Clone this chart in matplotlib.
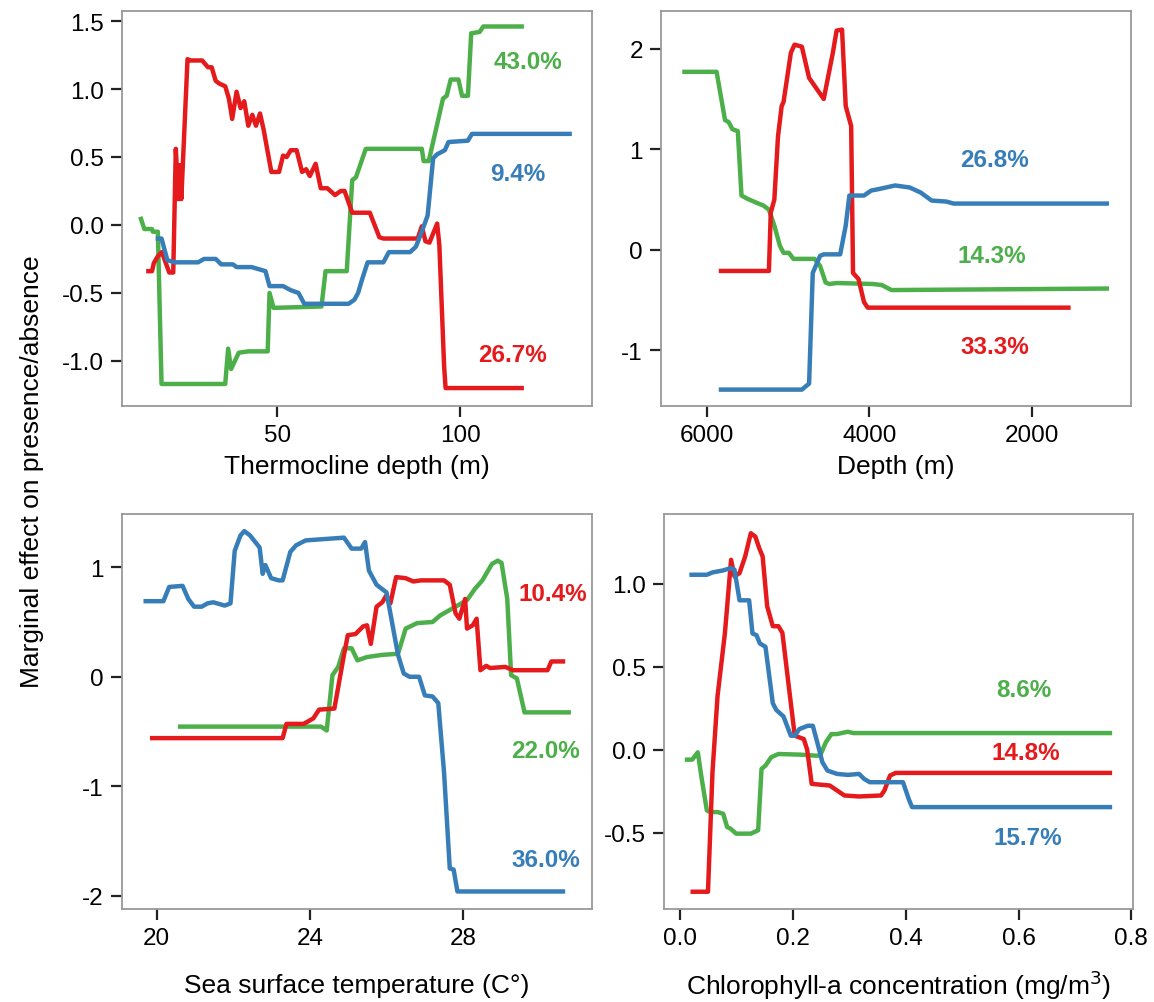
import matplotlib
matplotlib.use("Agg")
import matplotlib.pyplot as plt

plt.rcParams['font.family'] = ['Liberation Sans', 'DejaVu Sans']
plt.rcParams['axes.unicode_minus'] = False

RED = '#E41A1C'
GREEN = '#4DAF4A'
BLUE = '#377EB8'

# thermocline depth (m)
thermo_green_x = [12.6, 13.7, 15.8, 16.0, 17.4, 18.4, 35.8, 36.6, 37.4, 39.5, 42.1, 47.4, 47.9, 49.0, 62.1,
                  63.2, 69.0, 70.5, 71.5, 74.2, 89.5, 90.0, 91.4, 95.3, 96.3, 97.4, 99.5, 100.5, 102.1, 103.0,
                  105.3, 106.3, 117.4]
thermo_green_y = [0.06, -0.03, -0.03, -0.05, -0.05, -1.17, -1.17, -0.91, -1.06, -0.94, -0.93, -0.93, -0.50, -0.61,
                  -0.60, -0.34, -0.34, 0.33, 0.35, 0.56, 0.56, 0.47, 0.47, 0.93, 0.95, 1.07, 1.07, 0.95, 0.95, 1.41,
                  1.42, 1.46, 1.46]
thermo_red_x = [14.2, 15.8, 16.3, 17.4, 18.5, 20.5, 21.6, 22.3, 23.0, 23.4, 23.8, 25.5, 26.3, 29.5, 31.1, 32.1,
                33.2, 34.2, 35.8, 36.8, 37.7, 38.9, 40.0, 41.0, 42.1, 43.2, 44.2, 45.3, 46.3, 48.4, 50.5, 51.6,
                52.6, 53.7, 55.3, 56.8, 57.9, 58.9, 60.5, 61.9, 63.7, 65.8, 67.4, 68.4, 70.5, 75.3, 77.9, 79.0,
                88.4, 89.5, 90.5, 91.6, 93.7, 94.3, 95.6, 96.0, 117.4]
thermo_red_y = [-0.34, -0.34, -0.28, -0.23, -0.20, -0.35, -0.35, 0.56, 0.19, 0.44, 0.19, 1.22, 1.21, 1.21, 1.16, 1.16,
                1.06, 1.04, 1.02, 0.93, 0.78, 0.98, 0.86, 0.91, 0.73, 0.81, 0.73, 0.82, 0.70, 0.39, 0.39, 0.51,
                0.50, 0.55, 0.55, 0.39, 0.41, 0.36, 0.45, 0.27, 0.27, 0.22, 0.25, 0.25, 0.09, 0.09, -0.09, -0.10,
                -0.10, -0.01, -0.12, -0.13, 0.01, -0.15, -1.04, -1.20, -1.20]
thermo_blue_x = [16.8, 18.4, 20.0, 22.1, 28.4, 30.0, 33.2, 34.7, 37.9, 38.9, 43.0, 46.8, 47.9, 51.6, 53.7, 55.8,
                 57.4, 63.2, 69.5, 71.1, 72.1, 73.2, 74.7, 79.0, 80.5, 86.3, 87.9, 89.5, 91.1, 92.6, 93.7, 95.8,
                 96.8, 102.1, 103.2, 130.5]
thermo_blue_y = [-0.10, -0.10, -0.26, -0.275, -0.275, -0.25, -0.25, -0.29, -0.29, -0.31, -0.31, -0.34, -0.45, -0.45,
                 -0.48, -0.50, -0.58, -0.58, -0.58, -0.55, -0.50, -0.40, -0.275, -0.275, -0.20, -0.20, -0.16, -0.05,
                 0.07, 0.49, 0.52, 0.55, 0.61, 0.62, 0.67, 0.67]

# depth (m)
depth_green_x = [6301, 5879, 5775, 5730, 5685, 5618, 5573, 5506, 5450, 5393, 5303, 5236, 5169, 5101, 5056, 4990,
                 4935, 4674, 4607, 4539, 4494, 4400, 3955, 3850, 3730, 1056]
depth_green_y = [1.77, 1.77, 1.29, 1.27, 1.20, 1.18, 0.54, 0.51, 0.49, 0.47, 0.44, 0.40, 0.24, 0.04, -0.03, -0.03,
                 -0.09, -0.09, -0.16, -0.325, -0.34, -0.33, -0.34, -0.35, -0.40, -0.385]
depth_red_x = [5852, 5236, 5213, 5169, 5124, 5079, 5056, 4966, 4921, 4831, 4742, 4562, 4450, 4404, 4337, 4292,
               4225, 4202, 4135, 4067, 4022, 1528]
depth_red_y = [-0.21, -0.21, 0.37, 0.50, 1.13, 1.43, 1.47, 1.96, 2.04, 2.02, 1.71, 1.50, 1.96, 2.18, 2.19, 1.43,
               1.23, -0.23, -0.29, -0.52, -0.575, -0.575]
depth_blue_x = [5852, 4831, 4742, 4697, 4607, 4562, 4360, 4292, 4247, 4067, 3978, 3910, 3685, 3506, 3371, 3236,
                3056, 2966, 1056]
depth_blue_y = [-1.39, -1.39, -1.33, -0.23, -0.06, -0.045, -0.045, 0.24, 0.54, 0.54, 0.59, 0.60, 0.64, 0.62, 0.57,
                0.49, 0.48, 0.46, 0.46]

# sea surface temperature
sst_blue_x = [19.66, 20.18, 20.33, 20.68, 20.83, 20.98, 21.18, 21.33, 21.48, 21.78, 21.93, 22.04, 22.19, 22.29,
              22.44, 22.69, 22.77, 22.84, 22.99, 23.19, 23.29, 23.49, 23.64, 23.89, 24.49, 24.89, 25.09, 25.34,
              25.44, 25.54, 25.74, 26.00, 26.30, 26.45, 26.60, 26.85, 27.00, 27.20, 27.35, 27.50, 27.65, 27.75,
              27.85, 30.66]
sst_blue_y = [0.69, 0.69, 0.82, 0.83, 0.71, 0.64, 0.64, 0.67, 0.68, 0.65, 0.67, 1.15, 1.29, 1.33, 1.29, 1.18, 0.94,
              1.02, 0.90, 0.88, 0.88, 1.14, 1.20, 1.245, 1.26, 1.27, 1.17, 1.17, 1.23, 0.97, 0.84, 0.77, 0.20, 0.03,
              0.00, 0.00, -0.17, -0.18, -0.24, -0.87, -1.75, -1.76, -1.96, -1.96]
sst_red_x = [19.83, 23.29, 23.39, 23.84, 24.09, 24.24, 24.64, 24.89, 24.99, 25.19, 25.39, 25.49, 25.59, 25.74,
             25.89, 25.99, 26.10, 26.25, 26.50, 26.70, 26.90, 27.50, 27.65, 27.80, 27.90, 28.05, 28.10, 28.25,
             28.35, 28.45, 28.60, 28.70, 29.10, 29.30, 30.20, 30.30, 30.66]
sst_red_y = [-0.56, -0.56, -0.43, -0.43, -0.38, -0.30, -0.29, 0.20, 0.38, 0.39, 0.46, 0.47, 0.30, 0.64, 0.68, 0.74,
             0.67, 0.91, 0.90, 0.87, 0.88, 0.88, 0.84, 0.58, 0.53, 0.71, 0.44, 0.47, 0.53, 0.06, 0.10, 0.08, 0.09,
             0.06, 0.06, 0.14, 0.14]
sst_green_x = [20.56, 24.29, 24.44, 24.59, 24.74, 24.89, 25.09, 25.24, 25.49, 25.89, 26.30, 26.50, 26.80, 27.20,
               27.40, 27.55, 28.10, 28.30, 28.50, 28.75, 28.90, 29.00, 29.15, 29.25, 29.40, 29.60, 30.81]
sst_green_y = [-0.455, -0.455, -0.49, 0.015, 0.09, 0.26, 0.26, 0.15, 0.18, 0.20, 0.21, 0.44, 0.49, 0.50, 0.56,
               0.59, 0.70, 0.80, 0.88, 1.03, 1.06, 1.04, 0.71, 0.015, -0.015, -0.325, -0.325]

# chlorophyll-a
chl_blue_x = [0.016, 0.047, 0.057, 0.076, 0.089, 0.096, 0.105, 0.122, 0.128, 0.135, 0.141, 0.151, 0.164, 0.170,
              0.183, 0.196, 0.203, 0.211, 0.226, 0.235, 0.244, 0.252, 0.261, 0.278, 0.297, 0.317, 0.326, 0.336,
              0.395, 0.405, 0.411, 0.766]
chl_blue_y = [1.054, 1.054, 1.068, 1.08, 1.094, 1.085, 0.90, 0.90, 0.70, 0.69, 0.64, 0.62, 0.28, 0.24, 0.20, 0.084,
              0.084, 0.124, 0.144, 0.144, 0.03, -0.076, -0.126, -0.146, -0.152, -0.146, -0.176, -0.196, -0.196,
              -0.296, -0.346, -0.346]
chl_red_x = [0.018, 0.049, 0.057, 0.066, 0.079, 0.090, 0.096, 0.105, 0.115, 0.125, 0.133, 0.140, 0.146, 0.154,
             0.164, 0.174, 0.181, 0.193, 0.203, 0.219, 0.225, 0.233, 0.252, 0.265, 0.278, 0.291, 0.317, 0.356,
             0.362, 0.372, 0.382, 0.766]
chl_red_y = [-0.856, -0.856, -0.136, 0.324, 0.70, 1.144, 1.044, 1.064, 1.164, 1.304, 1.284, 1.214, 1.164, 0.864,
             0.744, 0.744, 0.704, 0.364, 0.084, 0.064, 0.0, -0.206, -0.212, -0.216, -0.246, -0.276, -0.282, -0.276,
             -0.246, -0.156, -0.14, -0.14]
chl_green_x = [0.008, 0.021, 0.031, 0.037, 0.047, 0.053, 0.066, 0.076, 0.083, 0.089, 0.099, 0.125, 0.138, 0.144,
               0.151, 0.161, 0.174, 0.213, 0.239, 0.248, 0.258, 0.268, 0.278, 0.297, 0.307, 0.766]
chl_green_y = [-0.06, -0.06, -0.016, -0.156, -0.366, -0.376, -0.376, -0.386, -0.466, -0.476, -0.506, -0.506,
               -0.486, -0.116, -0.096, -0.046, -0.026, -0.03, -0.036, -0.036, 0.044, 0.094, 0.094, 0.108, 0.10,
               0.10]

# percent labels: (text, x, y, colour)
thermo_labels = [('43.0%', 118.4, 1.20, GREEN), ('9.4%', 115.8, 0.376, BLUE), ('26.7%', 114.2, -0.95, RED)]
depth_labels = [('26.8%', 2458, 0.90, BLUE), ('14.3%', 2494, -0.06, GREEN), ('33.3%', 2458, -0.96, RED)]
sst_labels = [('10.4%', 30.34, 0.76, RED), ('22.0%', 30.16, -0.67, GREEN), ('36.0%', 30.16, -1.67, BLUE)]
chl_labels = [('8.6%', 0.609, 0.364, GREEN), ('14.8%', 0.613, -0.016, RED), ('15.7%', 0.617, -0.532, BLUE)]

fig = plt.figure(figsize=(11.54, 10.03), dpi=100)
W, H = 1154.0, 1003.0


def make_ax(x0, x1, y0, y1):
    return fig.add_axes([x0 / W, 1 - y1 / H, (x1 - x0) / W, (y1 - y0) / H])


ax1 = make_ax(122, 592, 12, 407)
ax2 = make_ax(661, 1131, 12, 407)
ax3 = make_ax(122, 592, 515, 910)
ax4 = make_ax(664, 1133, 515, 910)

panels = [
    (ax1, [(thermo_green_x, thermo_green_y, GREEN), (thermo_red_x, thermo_red_y, RED),
           (thermo_blue_x, thermo_blue_y, BLUE)], thermo_labels,
     (7.6, 136), (-1.332, 1.574), [50, 100], ['50', '100'],
     [-1.0, -0.5, 0.0, 0.5, 1.0, 1.5], ['-1.0', '-0.5', '0.0', '0.5', '1.0', '1.5'],
     'Thermocline depth (m)', 6),
    (ax2, [(depth_green_x, depth_green_y, GREEN), (depth_red_x, depth_red_y, RED),
           (depth_blue_x, depth_blue_y, BLUE)], depth_labels,
     (6562, 786), (-1.553, 2.375), [6000, 4000, 2000], ['6000', '4000', '2000'],
     [-1, 0, 1, 2], ['-1', '0', '1', '2'],
     'Depth (m)', 6),
    (ax3, [(sst_green_x, sst_green_y, GREEN), (sst_red_x, sst_red_y, RED),
           (sst_blue_x, sst_blue_y, BLUE)], sst_labels,
     (19.1, 31.36), (-2.12, 1.486), [20, 24, 28], ['20', '24', '28'],
     [-2, -1, 0, 1], ['-2', '-1', '0', '1'],
     'Sea surface temperature (C\u00b0)', 17),
    (ax4, [(chl_green_x, chl_green_y, GREEN), (chl_red_x, chl_red_y, RED),
           (chl_blue_x, chl_blue_y, BLUE)], chl_labels,
     (-0.029, 0.803), (-0.96, 1.42), [0.0, 0.2, 0.4, 0.6, 0.8], ['0.0', '0.2', '0.4', '0.6', '0.8'],
     [-0.5, 0.0, 0.5, 1.0], ['-0.5', '0.0', '0.5', '1.0'],
     'Chlorophyll-a concentration (mg/m$^3$)', 13),
]

for ax, series, labels, xlim, ylim, xt, xtl, yt, ytl, xlabel, lpad in panels:
    for xs, ys, c in series:
        ax.plot(xs, ys, color=c, lw=3.2, solid_joinstyle='round', solid_capstyle='butt')
    for txt, tx, ty, c in labels:
        ax.text(tx, ty, txt, color=c, fontsize=17.5, fontweight='bold', ha='center', va='center')
    ax.set_xlim(*xlim)
    ax.set_ylim(*ylim)
    ax.set_xticks(xt)
    ax.set_xticklabels(xtl)
    ax.set_yticks(yt)
    ax.set_yticklabels(ytl)
    ax.set_xlabel(xlabel, fontsize=19, labelpad=lpad)
    ax.tick_params(direction='out', length=8, width=1.6, labelsize=17.5, pad=5, color='#222222')
    for sp in ax.spines.values():
        sp.set_color('#999999')
        sp.set_linewidth(1.3)

fig.text(32 / W, 1 - 472 / H, 'Marginal effect on presence/absence', rotation=90, fontsize=19,
         ha='center', va='center')

fig.savefig('out.png', dpi=100)
